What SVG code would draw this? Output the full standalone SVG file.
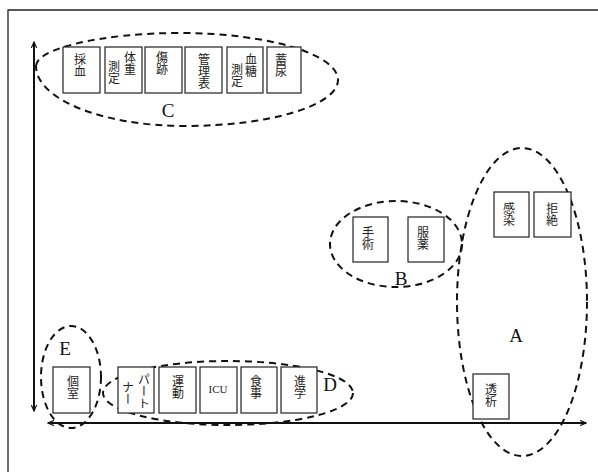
<svg xmlns="http://www.w3.org/2000/svg" width="598" height="472" viewBox="0 0 598 472">
<style>
.bg{fill:#fff}
.frame{stroke:#222;stroke-width:1.3;fill:none}
.box{fill:#fff;stroke:#222;stroke-width:1.2}
.grp{fill:none;stroke:#111;stroke-width:2;stroke-dasharray:7 5}
.axis{stroke:#111;stroke-width:2;fill:none}
.v{font-family:"Noto Sans CJK JP","Noto Sans CJK SC",sans-serif;font-size:12px;fill:#222;writing-mode:vertical-rl}
.h{font-family:"Liberation Serif",serif;font-size:11px;fill:#222;text-anchor:middle}
.lbl{font-family:"Liberation Serif",serif;font-size:19px;fill:#111;text-anchor:middle}
</style>
<defs>
<marker id="ar" viewBox="0 0 10 10" refX="9" refY="5" markerWidth="7" markerHeight="7" orient="auto-start-reverse" markerUnits="userSpaceOnUse">
<path d="M0,1 L9,5 L0,9" fill="none" stroke="#111" stroke-width="1.6"/>
</marker>
</defs>
<rect class="bg" x="0" y="0" width="598" height="472"/>
<path class="frame" d="M8,472 L8,10 L598,10"/>

<g id="connectors">
<line class="axis" x1="34" y1="411" x2="34" y2="42" marker-start="url(#ar)" marker-end="url(#ar)"/>
<line class="axis" x1="48" y1="423" x2="586" y2="423" marker-start="url(#ar)" marker-end="url(#ar)"/>
</g>

<g id="groups">
<g id="group-C">
<path class="grp" d="M36,66 C36,48.9 100.5,33 180,33 C267.2,33 338,54.1 338,80 C338,105.4 269.5,126 185,126 C102.8,126 36,99.3 36,66 Z"/>
<text class="lbl" x="168" y="117">C</text>
</g>
<g id="group-B">
<ellipse class="grp" cx="396" cy="244" rx="66" ry="43"/>
<text class="lbl" x="401" y="285">B</text>
</g>
<g id="group-A">
<ellipse class="grp" cx="522" cy="302" rx="65" ry="154"/>
<text class="lbl" x="516" y="342">A</text>
</g>
<g id="group-E">
<ellipse class="grp" cx="71" cy="377" rx="30" ry="51"/>
<text class="lbl" x="65" y="355">E</text>
</g>
<g id="group-D">
<ellipse class="grp" cx="228" cy="393" rx="125" ry="32"/>
<text class="lbl" x="330" y="391">D</text>
</g>
</g>

<g id="node-saiketsu"><rect class="box" x="63" y="47" width="37" height="46"/><text class="v" x="80" y="53">採血</text></g>
<g id="node-taiju"><rect class="box" x="105" y="47" width="37" height="46"/><text class="v" x="130" y="51">体重</text><text class="v" x="114" y="60">測定</text></g>
<g id="node-kizuato"><rect class="box" x="145" y="47" width="37" height="46"/><text class="v" x="162" y="51">傷跡</text></g>
<g id="node-kanrihyo"><rect class="box" x="185" y="47" width="37" height="46"/><text class="v" x="204" y="53">管理表</text></g>
<g id="node-kettou"><rect class="box" x="227" y="47" width="36" height="46"/><text class="v" x="251" y="53">血糖</text><text class="v" x="237" y="63">測定</text></g>
<g id="node-chikunyo"><rect class="box" x="267" y="47" width="34" height="46"/><text class="v" x="281" y="53">蓄尿</text></g>

<g id="node-shujutsu"><rect class="box" x="353" y="217" width="35" height="45"/><text class="v" x="368" y="226">手術</text></g>
<g id="node-fukuyaku"><rect class="box" x="408" y="217" width="36" height="45"/><text class="v" x="423" y="226">服薬</text></g>

<g id="node-kansen"><rect class="box" x="494" y="192" width="35" height="45"/><text class="v" x="509" y="202">感染</text></g>
<g id="node-kyozetsu"><rect class="box" x="534" y="192" width="37" height="45"/><text class="v" x="552" y="202">拒絶</text></g>
<g id="node-toseki"><rect class="box" x="473" y="374" width="36" height="45"/><text class="v" x="491" y="383">透析</text></g>

<g id="node-koshitsu"><rect class="box" x="53" y="367" width="37" height="46"/><text class="v" x="73" y="375">個室</text></g>

<g id="node-partner"><rect class="box" x="118" y="367" width="36" height="46"/><text class="v" x="144" y="373">パート</text><text class="v" x="128" y="381">ナー</text></g>
<g id="node-undo"><rect class="box" x="159" y="367" width="37" height="46"/><text class="v" x="178" y="375">運動</text></g>
<g id="node-icu"><rect class="box" x="200" y="367" width="37" height="46"/><text class="h" x="218" y="393">ICU</text></g>
<g id="node-shokuji"><rect class="box" x="241" y="367" width="36" height="46"/><text class="v" x="256" y="375">食事</text></g>
<g id="node-shingaku"><rect class="box" x="281" y="367" width="36" height="46"/><text class="v" x="300" y="375">進学</text></g>
</svg>
